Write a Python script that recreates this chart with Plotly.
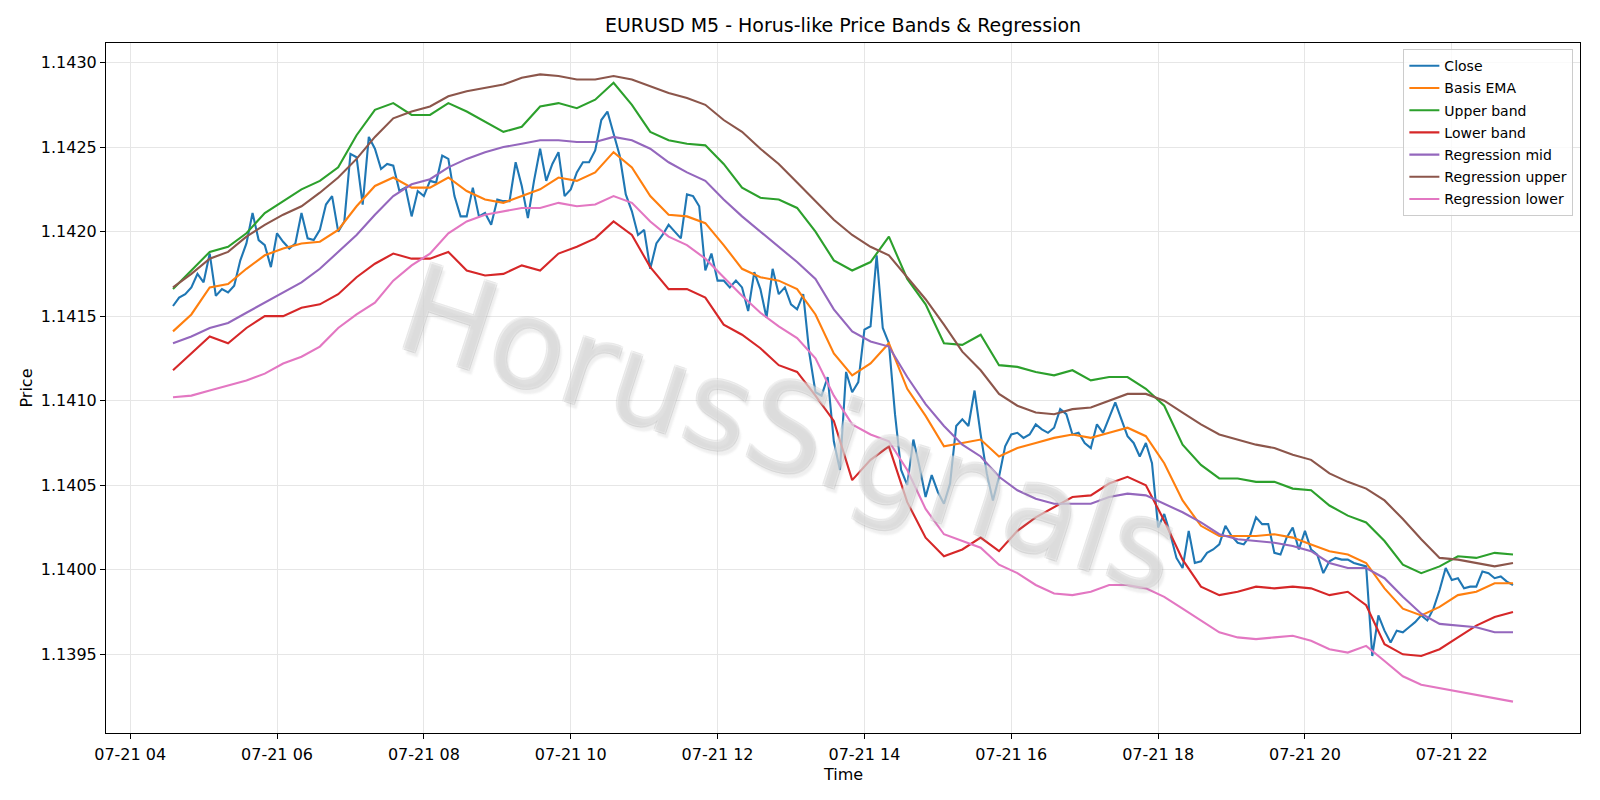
import plotly.graph_objects as go
import pandas as pd

# ---------------- data ----------------
close_start = "2025-07-21 04:35"   # 5-minute bars
close = [
    1.14156, 1.14161, 1.14163, 1.14167, 1.14175, 1.14170, 1.14187, 1.14162, 1.14166, 1.14164,
    1.14168, 1.14183, 1.14193, 1.14211, 1.14195, 1.14192, 1.14179, 1.14199, 1.14194, 1.14190,
    1.14193, 1.14211, 1.14196, 1.14195, 1.14201, 1.14216, 1.14221, 1.14200, 1.14206, 1.14246,
    1.14244, 1.14216, 1.14256, 1.14249, 1.14237, 1.14240, 1.14239, 1.14224, 1.14226, 1.14209,
    1.14224, 1.14221, 1.14230, 1.14229, 1.14245, 1.14243, 1.14221, 1.14209, 1.14209, 1.14226,
    1.14209, 1.14211, 1.14204, 1.14219, 1.14218, 1.14218, 1.14241, 1.14227, 1.14208, 1.14230,
    1.14249, 1.14230, 1.14240, 1.14247, 1.14221, 1.14225, 1.14235, 1.14241, 1.14241, 1.14248,
    1.14266, 1.14271, 1.14258, 1.14245, 1.14222, 1.14212, 1.14198, 1.14201, 1.14178, 1.14193,
    1.14198, 1.14204, 1.14200, 1.14196, 1.14222, 1.14221, 1.14215, 1.14177, 1.14187, 1.14171,
    1.14171, 1.14167, 1.14171, 1.14167, 1.14153, 1.14176, 1.14166, 1.14149, 1.14178, 1.14163,
    1.14167, 1.14157, 1.14154, 1.14163, 1.14128, 1.14105, 1.14103, 1.14114, 1.14076, 1.14059,
    1.14117, 1.14105, 1.14111, 1.14142, 1.14144, 1.14186, 1.14143, 1.14134, 1.14092, 1.14059,
    1.14050, 1.14077, 1.14061, 1.14043, 1.14056, 1.14046, 1.14039, 1.14051, 1.14085, 1.14089,
    1.14085, 1.14106, 1.14080, 1.14057, 1.14041, 1.14055, 1.14073, 1.14080, 1.14081, 1.14078,
    1.14080, 1.14086, 1.14083, 1.14081, 1.14084, 1.14095, 1.14092, 1.14080, 1.14081, 1.14075,
    1.14072, 1.14086, 1.14081, 1.14090, 1.14099, 1.14089, 1.14079, 1.14075, 1.14067, 1.14075,
    1.14063, 1.14025, 1.14033, 1.14021, 1.14007, 1.14001, 1.14023, 1.14004, 1.14005, 1.14010,
    1.14012, 1.14015, 1.14026, 1.14020, 1.14016, 1.14015, 1.14020, 1.14031, 1.14027, 1.14027,
    1.14010, 1.14009, 1.14019, 1.14025, 1.14012, 1.14023, 1.14012, 1.14009, 1.13998, 1.14005,
    1.14007, 1.14006, 1.14006, 1.14004, 1.14003, 1.14002, 1.13949, 1.13973, 1.13964, 1.13957,
    1.13964, 1.13963, 1.13966, 1.13969, 1.13973, 1.13970, 1.13977, 1.13988, 1.14001, 1.13994,
    1.13995, 1.13989, 1.13990, 1.13990, 1.13999, 1.13998, 1.13995, 1.13996, 1.13993, 1.13991,
]

band_start = "2025-07-21 04:35"    # smooth lines read every 15 minutes
basis_ema = [
    1.14141, 1.14151, 1.14167, 1.14169, 1.14178, 1.14186, 1.14190, 1.14193, 1.14194, 1.14201,
    1.14215, 1.14227, 1.14232, 1.14226, 1.14226, 1.14232, 1.14224, 1.14219, 1.14217, 1.14221,
    1.14225, 1.14232, 1.14230, 1.14235, 1.14247, 1.14238, 1.14221, 1.14210, 1.14209, 1.14205,
    1.14192, 1.14178, 1.14173, 1.14171, 1.14166, 1.14151, 1.14128, 1.14115, 1.14122, 1.14134,
    1.14107, 1.14091, 1.14073, 1.14075, 1.14077, 1.14067, 1.14072, 1.14075, 1.14078, 1.14080,
    1.14078, 1.14081, 1.14084, 1.14079, 1.14063, 1.14041, 1.14026, 1.14020, 1.14020, 1.14020,
    1.14021, 1.14019, 1.14015, 1.14011, 1.14009, 1.14004, 1.13989, 1.13977, 1.13973, 1.13978,
    1.13985, 1.13987, 1.13992, 1.13992,
]
upper_band = [
    1.14166, 1.14177, 1.14188, 1.14191, 1.14199, 1.14211, 1.14218, 1.14225, 1.14230, 1.14238,
    1.14257, 1.14272, 1.14276, 1.14269, 1.14269, 1.14276, 1.14271, 1.14265, 1.14259, 1.14262,
    1.14274, 1.14276, 1.14273, 1.14278, 1.14288, 1.14275, 1.14259, 1.14254, 1.14252, 1.14251,
    1.14240, 1.14226, 1.14220, 1.14219, 1.14214, 1.14200, 1.14183, 1.14177, 1.14182, 1.14197,
    1.14172, 1.14157, 1.14134, 1.14133, 1.14139, 1.14121, 1.14120, 1.14117, 1.14115, 1.14118,
    1.14112, 1.14114, 1.14114, 1.14107, 1.14097, 1.14074, 1.14062, 1.14054, 1.14054, 1.14052,
    1.14052, 1.14048, 1.14047, 1.14038, 1.14032, 1.14028, 1.14017, 1.14003, 1.13998, 1.14002,
    1.14008, 1.14007, 1.14010, 1.14009,
]
lower_band = [
    1.14118, 1.14128, 1.14138, 1.14134, 1.14143, 1.14150, 1.14150, 1.14155, 1.14157, 1.14163,
    1.14173, 1.14181, 1.14187, 1.14184, 1.14184, 1.14188, 1.14177, 1.14174, 1.14175, 1.14180,
    1.14177, 1.14187, 1.14191, 1.14196, 1.14206, 1.14198, 1.14179, 1.14166, 1.14166, 1.14161,
    1.14145, 1.14139, 1.14131, 1.14121, 1.14117, 1.14103, 1.14088, 1.14053, 1.14065, 1.14073,
    1.14040, 1.14019, 1.14008, 1.14012, 1.14019, 1.14011, 1.14023, 1.14031, 1.14037, 1.14043,
    1.14044, 1.14051, 1.14055, 1.14050, 1.14029, 1.14006, 1.13990, 1.13985, 1.13987, 1.13990,
    1.13989, 1.13990, 1.13989, 1.13985, 1.13987, 1.13979, 1.13956, 1.13950, 1.13949, 1.13953,
    1.13960, 1.13967, 1.13972, 1.13975,
]
reg_mid = [
    1.14134, 1.14138, 1.14143, 1.14146, 1.14152, 1.14158, 1.14164, 1.14170, 1.14178, 1.14188,
    1.14198, 1.14210, 1.14221, 1.14228, 1.14231, 1.14238, 1.14243, 1.14247, 1.14250, 1.14252,
    1.14254, 1.14254, 1.14253, 1.14253, 1.14256, 1.14254, 1.14249, 1.14241, 1.14235, 1.14230,
    1.14219, 1.14209, 1.14200, 1.14191, 1.14182, 1.14172, 1.14154, 1.14141, 1.14135, 1.14132,
    1.14114, 1.14098, 1.14085, 1.14074, 1.14067, 1.14055, 1.14047, 1.14042, 1.14039, 1.14039,
    1.14039, 1.14043, 1.14045, 1.14044, 1.14039, 1.14034, 1.14028, 1.14021, 1.14018, 1.14017,
    1.14016, 1.14014, 1.14011, 1.14004, 1.14001, 1.14001, 1.13995, 1.13984, 1.13974, 1.13968,
    1.13967, 1.13966, 1.13963, 1.13963,
]
reg_upper = [
    1.14167, 1.14175, 1.14184, 1.14188, 1.14197, 1.14204, 1.14210, 1.14215, 1.14223, 1.14232,
    1.14243, 1.14256, 1.14267, 1.14271, 1.14274, 1.14280, 1.14283, 1.14285, 1.14287, 1.14291,
    1.14293, 1.14292, 1.14290, 1.14290, 1.14292, 1.14290, 1.14286, 1.14282, 1.14279, 1.14275,
    1.14266, 1.14259, 1.14249, 1.14240, 1.14229, 1.14218, 1.14207, 1.14198, 1.14191, 1.14186,
    1.14173, 1.14160, 1.14145, 1.14129, 1.14118, 1.14104, 1.14097, 1.14093, 1.14092, 1.14095,
    1.14096, 1.14100, 1.14104, 1.14104, 1.14100, 1.14093, 1.14086, 1.14080, 1.14077, 1.14074,
    1.14072, 1.14068, 1.14065, 1.14057, 1.14052, 1.14048, 1.14041, 1.14030, 1.14018, 1.14007,
    1.14006, 1.14004, 1.14002, 1.14004,
]
reg_lower = [
    1.14102, 1.14103, 1.14106, 1.14109, 1.14112, 1.14116, 1.14122, 1.14126, 1.14132, 1.14143,
    1.14151, 1.14158, 1.14171, 1.14180, 1.14187, 1.14199, 1.14206, 1.14210, 1.14212, 1.14214,
    1.14214, 1.14217, 1.14215, 1.14216, 1.14221, 1.14217, 1.14206, 1.14197, 1.14192, 1.14184,
    1.14173, 1.14162, 1.14152, 1.14144, 1.14137, 1.14125, 1.14103, 1.14086, 1.14080, 1.14076,
    1.14059, 1.14036, 1.14021, 1.14017, 1.14013, 1.14003, 1.13998, 1.13991, 1.13986, 1.13985,
    1.13987, 1.13991, 1.13991, 1.13989, 1.13984, 1.13977, 1.13970, 1.13963, 1.13960, 1.13959,
    1.13960, 1.13961, 1.13958, 1.13953, 1.13951, 1.13955, 1.13946, 1.13937, 1.13932, 1.13930,
    1.13928, 1.13926, 1.13924, 1.13922,
]

series_names = ["Close", "Basis EMA", "Upper band", "Lower band",
                "Regression mid", "Regression upper", "Regression lower"]
series_colors = ["#1f77b4", "#ff7f0e", "#2ca02c", "#d62728",
                 "#9467bd", "#8c564b", "#e377c2"]
y_ticks = [1.1395, 1.1400, 1.1405, 1.1410, 1.1415, 1.1420, 1.1425, 1.1430]
title_text = "EURUSD M5 - Horus-like Price Bands & Regression"
x_label = "Time"
y_label = "Price"
watermark = "HorusSignals"

# ---------------- figure ----------------
t_close = pd.date_range(close_start, periods=len(close), freq="5min")
t_band = pd.date_range(band_start, periods=len(basis_ema), freq="15min")

series = [
    (t_close, close), (t_band, basis_ema), (t_band, upper_band), (t_band, lower_band),
    (t_band, reg_mid), (t_band, reg_upper), (t_band, reg_lower),
]

FONT = "DejaVu Sans"
fig = go.Figure()
for k, ((tx, ty), name, col) in enumerate(zip(series, series_names, series_colors)):
    fig.add_trace(go.Scatter(
        x=tx, y=ty, mode="lines", name=name,
        line=dict(color=col, width=2.1),
        legendgroup=f"g{k}",
    ))

all_vals = close + basis_ema + upper_band + lower_band + reg_mid + reg_upper + reg_lower
lo, hi = min(all_vals), max(all_vals)
pad = (hi - lo) * 0.05

shadow = ("1px 1px 0 rgba(160,160,160,0.6), -1px -1px 0 rgba(185,185,185,0.55), "
          "1px -1px 0 rgba(185,185,185,0.55), -1px 1px 0 rgba(185,185,185,0.55), "
          "4px 4px 2px rgba(150,150,150,0.45)")

fig.update_layout(
    width=1600, height=800,
    margin=dict(l=106, r=20, t=43, b=67),
    paper_bgcolor="white", plot_bgcolor="white",
    font=dict(family=FONT, size=16, color="black"),
    title=dict(text=title_text, x=0.5, xref="paper", xanchor="center",
               y=1 - 25.5 / 800, yref="container", yanchor="middle",
               font=dict(size=19, family=FONT)),
    showlegend=True,
    legend=dict(x=0.9955, y=0.991, xanchor="right", yanchor="top",
                bgcolor="rgba(255,255,255,0.8)", bordercolor="#cccccc", borderwidth=1,
                font=dict(size=14, family=FONT), traceorder="grouped",
                tracegroupgap=1, itemwidth=30),
    xaxis=dict(
        range=["2025-07-21 03:40:15", "2025-07-21 23:44:45"],
        tick0="2025-07-21 04:00", dtick=2 * 3600 * 1000, tickformat="%m-%d %H",
        ticks="outside", ticklen=5, tickwidth=1, tickcolor="black",
        ticklabelstandoff=2,
        showgrid=True, gridcolor="#e6e6e6", gridwidth=1,
        showline=True, linecolor="black", linewidth=1, mirror=True,
        zeroline=False, tickfont=dict(size=16),
    ),
    yaxis=dict(
        range=[lo - pad, hi + pad],
        tickvals=y_ticks, tickformat=".4f",
        ticks="outside", ticklen=5, tickwidth=1, tickcolor="black",
        showgrid=True, gridcolor="#e6e6e6", gridwidth=1,
        showline=True, linecolor="black", linewidth=1, mirror=True,
        zeroline=False, tickfont=dict(size=16),
        title=dict(text=y_label, font=dict(size=16), standoff=4),
    ),
    annotations=[
        dict(text=watermark, xref="paper", yref="paper", x=0.464, y=0.44,
             showarrow=False, textangle=18,
             font=dict(family=FONT, size=124, color="rgba(255,255,255,0.35)",
                       shadow=shadow)),
        dict(text=x_label, xref="paper", yref="paper", x=0.5, y=-0.0605,
             xanchor="center", yanchor="middle", showarrow=False,
             font=dict(family=FONT, size=16, color="black")),
    ],
)

fig.write_html("out.html")
